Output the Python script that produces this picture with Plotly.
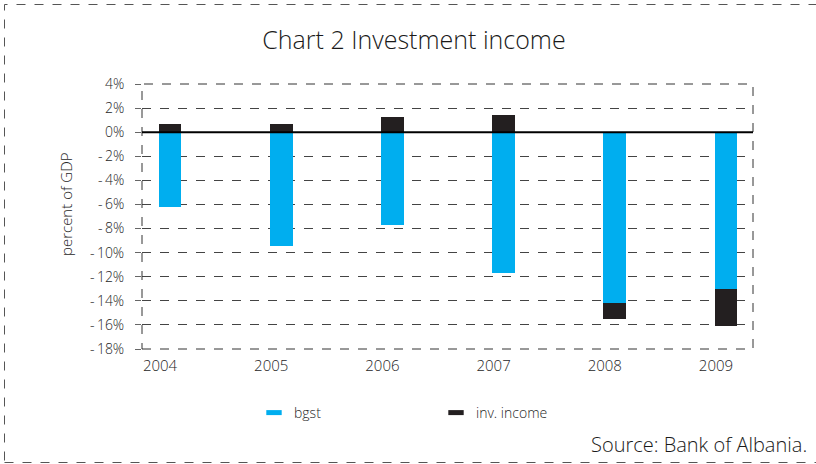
import plotly.graph_objects as go

years = ["2004", "2005", "2006", "2007", "2008", "2009"]
bgst = [-6.25, -9.42, -7.69, -11.68, -14.18, -13.0]
inv_income = [0.64, 0.64, 1.24, 1.40, -1.30, -3.10]
ytick_vals = [4, 2, 0, -2, -4, -6, -8, -10, -12, -14, -16, -18]
ytick_text = ["4%", "2%", "0%", "-\u20092%", "-\u20094%", "-\u20096%", "-\u20098%",
              "-\u200910%", "-\u200912%", "-\u200914%", "-\u200916%", "-\u200918%"]

W, H = 816, 464
L, R, T, B = 142, 753, 84, 349

FONT = "Open Sans"
TXT = "#262626"
BLUE = "#00AEEF"
DARK = "#231F20"
idx = list(range(len(years)))

fig = go.Figure()
fig.add_trace(go.Bar(x=idx, y=bgst, name="bgst", showlegend=False,
                     marker=dict(color=BLUE, line=dict(width=0)), width=0.205))
fig.add_trace(go.Bar(x=idx, y=inv_income, name="inv. income", showlegend=False,
                     marker=dict(color=DARK, line=dict(width=0)), width=0.205))
# legend entries drawn with flat rectangular keys
for nm, col in (("bgst", BLUE), ("inv. income", DARK)):
    fig.add_trace(go.Scatter(x=[None], y=[None], mode="markers", name=nm,
                             marker=dict(symbol="line-ew", size=11, color=col,
                                         line=dict(color=col, width=6))))

def px(xp):
    return (xp - L) / (R - L)

def py(yp):
    return (B - yp) / (B - T)

shapes = [
    dict(type="rect", xref="paper", yref="paper", x0=0, y0=0, x1=1, y1=1,
         line=dict(color="#333333", width=1, dash="dash"), layer="above"),
    dict(type="line", xref="paper", yref="y", x0=0, x1=1, y0=0, y1=0,
         line=dict(color="#000000", width=2), layer="above"),
    dict(type="rect", xref="paper", yref="paper", x0=px(4.5), y0=py(462.5), x1=px(830), y1=py(4.5),
         line=dict(color="#555555", width=1, dash="dash"), layer="above"),
]

fig.update_layout(
    width=W, height=H,
    margin=dict(l=L, r=W - R, t=T, b=H - B),
    paper_bgcolor="white", plot_bgcolor="white",
    barmode="relative",
    bargap=0,
    font=dict(family=FONT, color=TXT, size=13, weight=300),
    title=dict(text="Chart 2 Investment income", x=414 / W, xanchor="center",
               y=1 - 40 / H, yanchor="middle",
               font=dict(size=25, color="#1a1a1a", family=FONT, weight=300)),
    showlegend=True,
    legend=dict(orientation="h", x=px(254), y=py(413), xanchor="left", yanchor="middle",
                font=dict(size=14, color=TXT, weight=300), entrywidth=137, entrywidthmode="pixels",
                bgcolor="rgba(0,0,0,0)", itemclick=False),
    xaxis=dict(range=[-0.252, 5.243], tickmode="array", tickvals=idx, ticktext=years,
               showgrid=False, zeroline=False, showline=False, ticks="",
               ticklabelshift=-10, ticklabelstandoff=6,
               tickfont=dict(size=15, color=TXT, weight=300), fixedrange=True),
    yaxis=dict(range=[-18, 4], tickmode="array", tickvals=ytick_vals, ticktext=ytick_text,
               showgrid=True, gridcolor="#444444", gridwidth=1, griddash="dash",
               zeroline=False, showline=False, ticks="outside", ticklen=6, tickcolor="#666666",
               tickfont=dict(size=14, color=TXT, weight=300), ticklabelstandoff=8,
               fixedrange=True),
    shapes=shapes,
    annotations=[
        dict(text="percent of GDP", xref="paper", yref="paper", x=px(66), y=py(204),
             xanchor="center", yanchor="middle", textangle=-90, showarrow=False,
             font=dict(size=15, color=TXT, weight=300)),
        dict(text="Source: Bank of Albania.", xref="paper", yref="paper", x=px(809), y=py(444),
             xanchor="right", yanchor="middle", showarrow=False,
             font=dict(size=20, color="#1a1a1a", weight=300)),
    ],
)

fig.write_html("out.html")
